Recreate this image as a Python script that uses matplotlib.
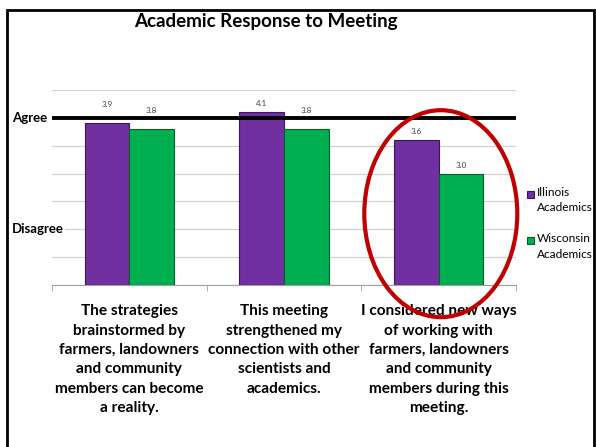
import matplotlib
matplotlib.use("Agg")
import matplotlib.pyplot as plt
import numpy as np
from matplotlib.patches import Ellipse, Rectangle
from matplotlib.transforms import blended_transform_factory

plt.rcParams["font.family"] = ["Lato", "DejaVu Sans"]

# data
categories = [
    "The strategies\nbrainstormed by\nfarmers, landowners\nand community\nmembers can become\na reality.",
    "This meeting\nstrengthened my\nconnection with other\nscientists and\nacademics.",
    "I considered new ways\nof working with\nfarmers, landowners\nand community\nmembers during this\nmeeting.",
]
illinois = [3.9, 4.1, 3.6]
wisconsin = [3.8, 3.8, 3.0]
series_names = ["Illinois\nAcademics", "Wisconsin\nAcademics"]
scale_labels = {4: "Agree", 2: "Disagree"}

purple = "#7030A0"
green = "#00B050"

fig = plt.figure(figsize=(5.96, 4.47), dpi=100)
ax = fig.add_axes([52 / 596, 1 - 285 / 447, 464 / 596, 195 / 447])

x = np.arange(len(categories))
w = 0.289
b1 = ax.bar(x - w / 2, np.array(illinois) - 1, w, bottom=1, color=purple,
            edgecolor="#3c1560", linewidth=0.8, zorder=3)
b2 = ax.bar(x + w / 2, np.array(wisconsin) - 1, w, bottom=1, color=green,
            edgecolor="#0b5e2c", linewidth=0.8, zorder=3)

# value labels (moved above the Agree line where they would hit it)
for xs, vals in [(x - w / 2, illinois), (x + w / 2, wisconsin)]:
    for xi, v in zip(xs, vals):
        ly = v + 0.15
        if abs(ly - 4) < 0.12:
            ly = v + 0.34
        ax.text(xi, ly, f"{v:.1f}", ha="center", va="center", fontsize=5.8,
                color="#404040", zorder=4)

ax.set_xlim(-0.5, 2.5)
ax.set_ylim(1, 4.5)
ax.set_yticks(np.arange(1, 4.51, 0.5))
ax.set_yticklabels([])
ax.tick_params(axis="y", length=0)
ax.grid(axis="y", color="#d0d0d0", linewidth=0.9, zorder=0)
ax.axhline(4, color="black", linewidth=2.8, zorder=5)

ax.set_xticks(x)
ax.set_xticklabels(categories, fontsize=11.1, fontweight="bold", linespacing=1.48)
ax.set_xticks([-0.5, 0.5, 1.5, 2.5], minor=True)
ax.tick_params(axis="x", which="major", length=0, pad=14)
ax.tick_params(axis="x", which="minor", length=4, color="#a0a0a0")

for s in ["top", "right", "left"]:
    ax.spines[s].set_visible(False)
ax.spines["bottom"].set_color("#a0a0a0")

trans = blended_transform_factory(fig.transFigure, ax.transData)
for yv, lab in scale_labels.items():
    ax.text(12 / 596, yv, lab, transform=trans, ha="left", va="center",
            fontsize=9.5, fontweight="bold", zorder=6,
            bbox=dict(facecolor="white", edgecolor="none", pad=0.5))

# legend
for i, (name, col, ec) in enumerate([(series_names[0], purple, "#3c1560"),
                                     (series_names[1], green, "#0b5e2c")]):
    ytop = 1 - (194 + i * 46.7) / 447
    fig.patches.append(Rectangle((526.5 / 596, ytop - 3.5 / 447), 7 / 596, 7 / 447,
                                 transform=fig.transFigure, facecolor=col,
                                 edgecolor=ec, linewidth=0.8))
    fig.text(537 / 596, ytop + 7.5 / 447, name, ha="left", va="top", fontsize=8.6,
             linespacing=1.5)

fig.text(266 / 596, 1 - 22 / 447, "Academic Response to Meeting", ha="center",
         va="center", fontsize=13.5, fontweight="bold")

# slide border and highlight ellipse
fig.patches.append(Rectangle((7 / 596, -0.05), 587 / 596, 1.05 - 10 / 447,
                             transform=fig.transFigure, fill=False,
                             edgecolor="black", linewidth=2))
fig.patches.append(Ellipse((440.8 / 596, 1 - 213.7 / 447), 153 / 596, 207 / 447,
                           transform=fig.transFigure, fill=False,
                           edgecolor="#C00000", linewidth=3, zorder=10))

fig.savefig("out.png", dpi=100)
